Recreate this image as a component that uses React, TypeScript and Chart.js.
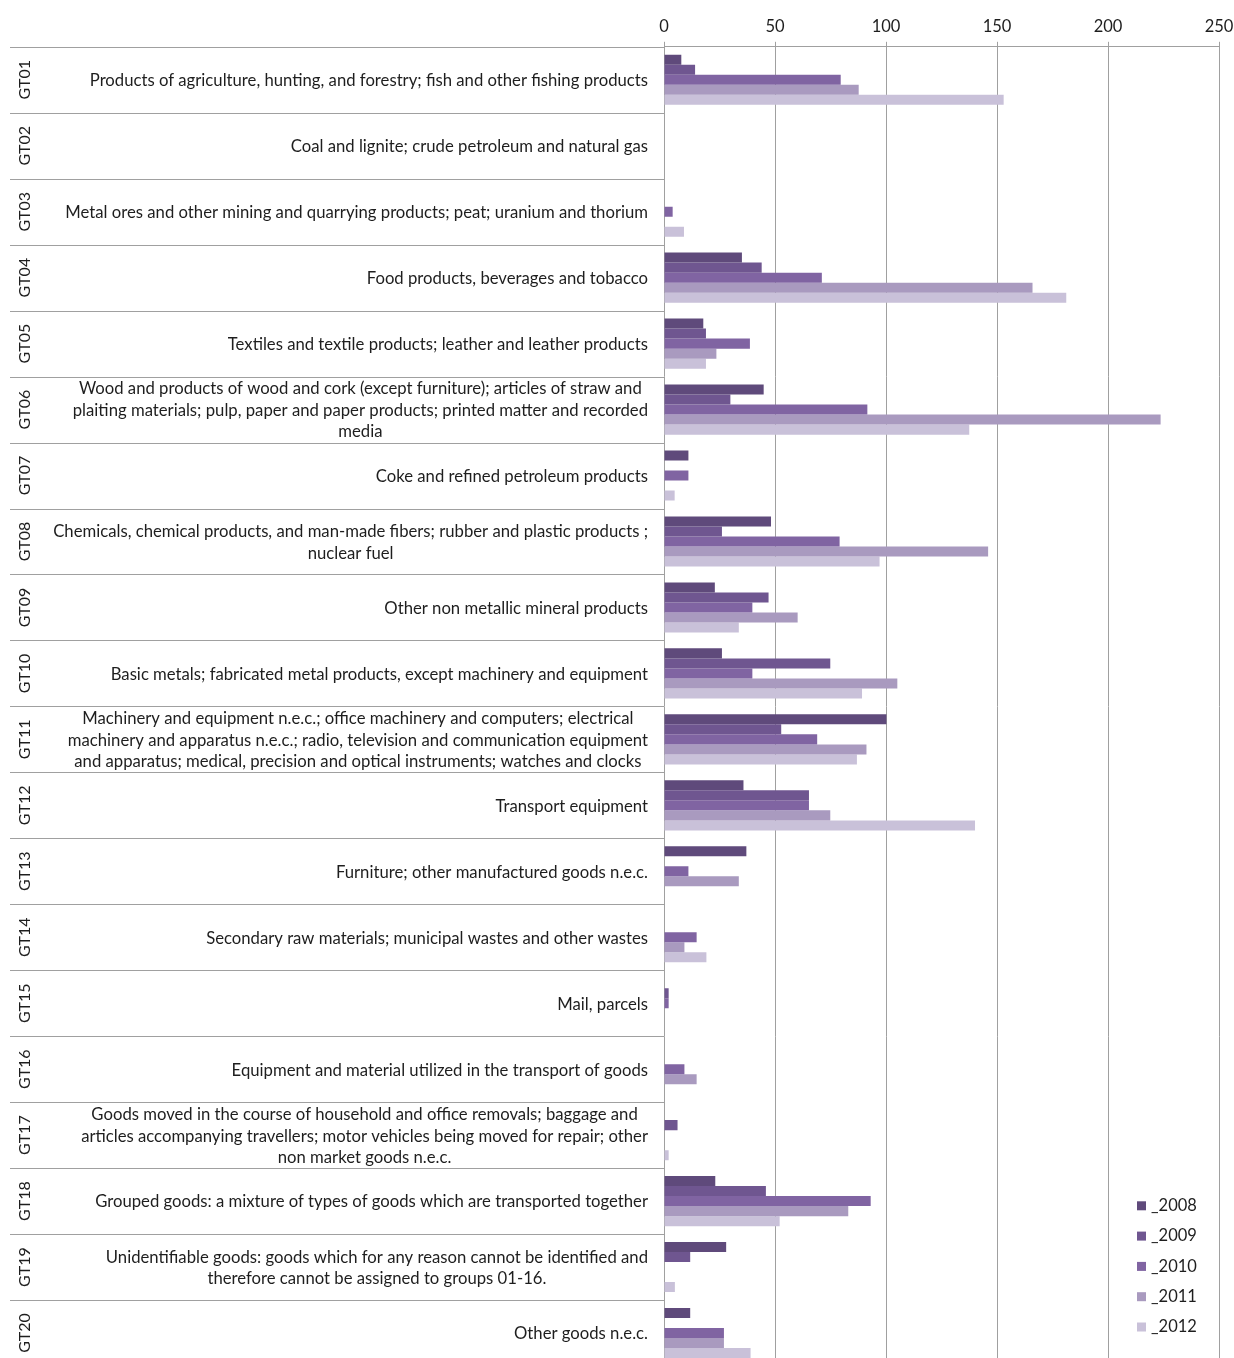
import React, { useEffect, useRef } from "react";
import { Chart, registerables } from "chart.js";

Chart.register(...registerables);

const codes = ["GT01","GT02","GT03","GT04","GT05","GT06","GT07","GT08","GT09","GT10","GT11","GT12","GT13","GT14","GT15","GT16","GT17","GT18","GT19","GT20"];

const descriptions: string[][] = [
  ["Products of agriculture, hunting, and forestry; fish and other fishing products"],
  ["Coal and lignite; crude petroleum and natural gas"],
  ["Metal ores and other mining and quarrying products; peat; uranium and thorium"],
  ["Food products, beverages and tobacco"],
  ["Textiles and textile products; leather and leather products"],
  ["Wood and products of wood and cork (except furniture); articles of straw and", "plaiting materials; pulp, paper and paper products; printed matter and recorded", "media"],
  ["Coke and refined petroleum products"],
  ["Chemicals, chemical products, and man-made fibers; rubber and plastic products ;", "nuclear fuel"],
  ["Other non metallic mineral products"],
  ["Basic metals; fabricated metal products, except machinery and equipment"],
  ["Machinery and equipment n.e.c.; office machinery and computers; electrical", "machinery and apparatus n.e.c.; radio, television and communication equipment", "and apparatus; medical, precision and optical instruments; watches and clocks"],
  ["Transport equipment"],
  ["Furniture; other manufactured goods n.e.c."],
  ["Secondary raw materials; municipal wastes and other wastes"],
  ["Mail, parcels"],
  ["Equipment and material utilized in the transport of goods"],
  ["Goods moved in the course of household and office removals; baggage and", "articles accompanying travellers; motor vehicles being moved for repair; other", "non market goods n.e.c."],
  ["Grouped goods: a mixture of types of goods which are transported together"],
  ["Unidentifiable goods: goods which for any reason cannot be identified and", "therefore cannot be assigned to groups 01-16."],
  ["Other goods n.e.c."],
];

const years = ["_2008", "_2009", "_2010", "_2011", "_2012"];

const v2008 = [7.8, null, null, 35.1, 17.7, 44.9, 11, 48.2, 22.9, 26.1, 100.2, 35.8, 37.1, null, null, null, null, 23.1, 28, 11.8];
const v2009 = [14, null, null, 44, 18.9, 29.9, null, 26.1, 47.1, 74.9, 52.8, 65.3, null, null, 2.1, null, 6.1, 45.9, 11.8, null];
const v2010 = [79.6, null, 3.9, 71.1, 38.7, 91.6, 11, 79.1, 39.8, 39.8, 69, 65.3, 11, 14.7, 2.1, 9.2, null, 93.1, null, 27];
const v2011 = [87.7, null, null, 166, 23.6, 223.7, null, 146, 60.2, 105.1, 91.2, 74.9, 33.7, 9.2, null, 14.7, null, 83, null, 27];
const v2012 = [153, null, 9, 181.2, 18.9, 137.5, 4.8, 97.1, 33.7, 89.2, 86.9, 140.1, null, 19.1, null, null, 2.1, 52.1, 4.9, 39];

const seriesValues = [v2008, v2009, v2010, v2011, v2012];
const seriesColors = ["#5f4a7b", "#6f5690", "#8064a2", "#a99abf", "#c9c1d9"];

const xMin = 0;
const xMax = 250;
const xStep = 50;

const FONT_FAMILY = "Lato, 'Open Sans', sans-serif";
const TEXT_COLOR = "#1e1e1e";
const GRID_COLOR = "#a0a0a0";

const rowLabelPlugin = {
  id: "rowLabels",
  afterDraw(chart: any) {
    const ctx = chart.ctx as CanvasRenderingContext2D;
    const area = chart.chartArea;
    const yScale = chart.scales.y;
    const n = codes.length;
    const rowH = yScale.getPixelForValue(1) - yScale.getPixelForValue(0);
    ctx.save();
    ctx.strokeStyle = GRID_COLOR;
    ctx.lineWidth = 1;
    for (let i = 0; i <= n; i++) {
      const yy = Math.round(yScale.getPixelForValue(i) - rowH / 2) + 0.5;
      ctx.beginPath();
      ctx.moveTo(10, yy);
      ctx.lineTo(area.left, yy);
      ctx.stroke();
    }
    ctx.fillStyle = TEXT_COLOR;
    ctx.font = `16.7px ${FONT_FAMILY}`;
    ctx.textBaseline = "middle";
    ctx.textAlign = "center";
    const rightEdge = area.left - 16;
    const lineH = 21.5;
    for (let i = 0; i < n; i++) {
      const yc = yScale.getPixelForValue(i);
      const lines = descriptions[i];
      let maxW = 0;
      for (const l of lines) maxW = Math.max(maxW, ctx.measureText(l).width);
      const cx = rightEdge - maxW / 2;
      const y0 = yc - ((lines.length - 1) * lineH) / 2 + 1;
      lines.forEach((l, k) => ctx.fillText(l, cx, y0 + k * lineH));
    }
    ctx.font = `16px ${FONT_FAMILY}`;
    for (let i = 0; i < n; i++) {
      const yc = yScale.getPixelForValue(i);
      ctx.save();
      ctx.translate(24.5, yc);
      ctx.rotate(-Math.PI / 2);
      ctx.textAlign = "center";
      ctx.textBaseline = "middle";
      ctx.fillText(codes[i], 0, 0);
      ctx.restore();
    }
    const ds = chart.data.datasets;
    const lx = area.right - 82;
    const spacing = 30.3;
    const lastY = area.bottom - 39;
    ctx.font = `16.5px ${FONT_FAMILY}`;
    ctx.textAlign = "left";
    ctx.textBaseline = "middle";
    ds.forEach((d: any, k: number) => {
      const yy = lastY - (ds.length - 1 - k) * spacing;
      ctx.fillStyle = d.backgroundColor;
      ctx.fillRect(lx, yy - 4.5, 9, 9);
      ctx.fillStyle = TEXT_COLOR;
      ctx.fillText(d.label, lx + 14, yy);
    });
    ctx.restore();
  },
};

export default function App() {
  const canvasRef = useRef<HTMLCanvasElement | null>(null);

  useEffect(() => {
    const canvas = canvasRef.current;
    if (!canvas) return;
    const chart = new Chart(canvas, {
      type: "bar",
      data: {
        labels: codes,
        datasets: years.map((y, k) => ({
          label: y,
          data: seriesValues[k],
          backgroundColor: seriesColors[k],
          borderWidth: 0,
          categoryPercentage: 0.76,
          barPercentage: 1.0,
        })),
      },
      options: {
        indexAxis: "y",
        responsive: false,
        animation: false,
        devicePixelRatio: 1,
        layout: { padding: { left: 664, right: 15, top: 12, bottom: 2 } },
        plugins: {
          legend: { display: false },
          tooltip: { enabled: false },
        },
        scales: {
          x: {
            position: "top",
            min: xMin,
            max: xMax,
            afterFit(scale: any) {
              scale.paddingRight = 0;
              scale.paddingLeft = 0;
            },
            ticks: {
              stepSize: xStep,
              padding: 5,
              color: TEXT_COLOR,
              font: { family: FONT_FAMILY, size: 16.5 },
            },
            grid: { color: GRID_COLOR, tickLength: 5, lineWidth: 1 },
            border: { color: GRID_COLOR },
          },
          y: {
            type: "category",
            display: false,
          },
        },
      },
      plugins: [rowLabelPlugin],
    } as any);
    return () => chart.destroy();
  }, []);

  return (
    <div
      style={{
        position: "fixed",
        left: 0,
        top: 0,
        width: 1234,
        height: 1358,
        overflow: "hidden",
        background: "#fff",
      }}
    >
      <canvas ref={canvasRef} width={1234} height={1368} style={{ display: "block" }} />
    </div>
  );
}
